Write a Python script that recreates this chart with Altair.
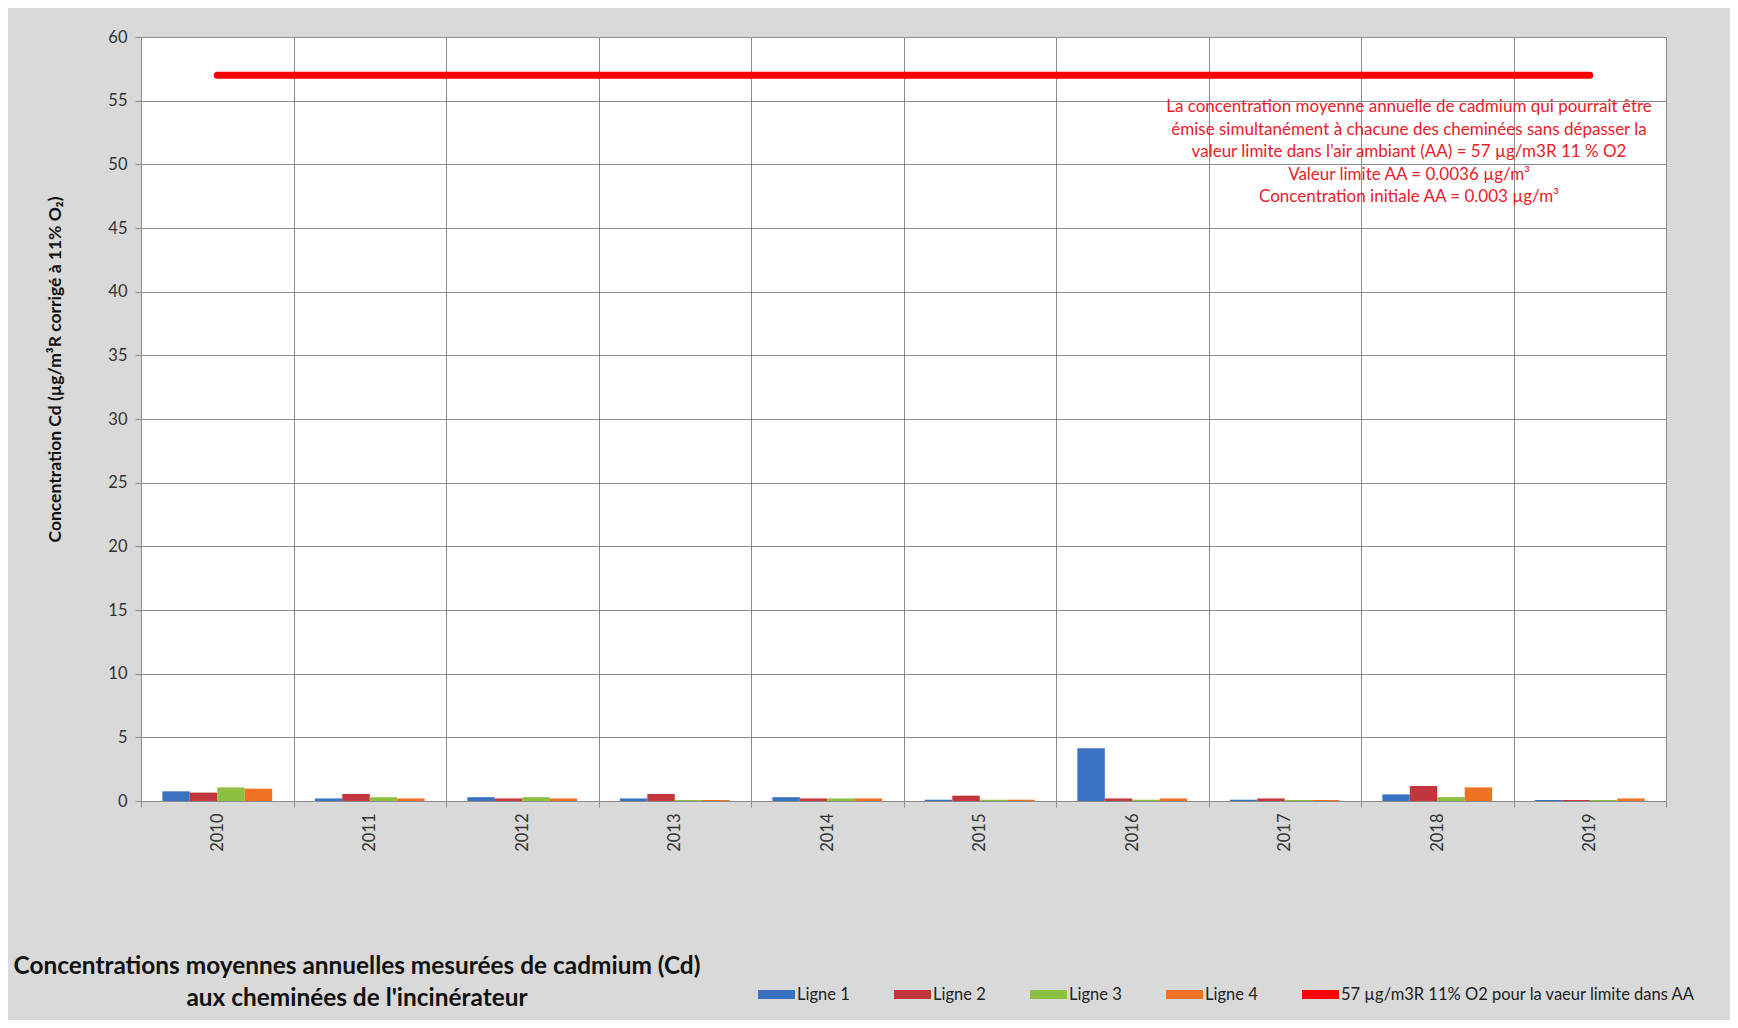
import altair as alt
import pandas as pd

years = ["2010", "2011", "2012", "2013", "2014", "2015", "2016", "2017", "2018", "2019"]
series = ["Ligne 1", "Ligne 2", "Ligne 3", "Ligne 4"]
ligne1 = [0.76, 0.20, 0.30, 0.20, 0.30, 0.10, 4.14, 0.10, 0.52, 0.08]
ligne2 = [0.66, 0.55, 0.20, 0.55, 0.20, 0.42, 0.20, 0.20, 1.18, 0.08]
ligne3 = [1.07, 0.30, 0.30, 0.08, 0.20, 0.10, 0.10, 0.08, 0.31, 0.08]
ligne4 = [0.97, 0.20, 0.20, 0.08, 0.20, 0.10, 0.20, 0.08, 1.07, 0.20]
limit_label = "57 µg/m3R 11% O2 pour la vaeur limite dans AA"
limit_values = [57, 57, 57, 57, 57, 57, 57, 57, 57, 57]
colors = ["#3a72c2", "#c0363a", "#8dc040", "#ef7124", "#ff0000"]

y_title = "Concentration Cd (µg/m³R corrigé à 11% O₂)"
ann_lines = [
    "La concentration moyenne  annuelle de  cadmium qui pourrait être",
    "émise simultanément à chacune des cheminées  sans dépasser la",
    "valeur limite dans l’air ambiant (AA) = 57 µg/m3R 11 % O2",
    "Valeur limite AA  = 0.0036 µg/m³",
    "Concentration initiale AA = 0.003 µg/m³",
]
title_lines = [
    "Concentrations moyennes annuelles mesurées de cadmium (Cd)",
    "aux cheminées de l'incinérateur",
]

rows = []
for s, vals in zip(series, [ligne1, ligne2, ligne3, ligne4]):
    for y, v in zip(years, vals):
        rows.append({"year": y, "series": s, "value": v})
bar_df = pd.DataFrame(rows)
line_df = pd.DataFrame({"year": years, "value": limit_values, "series": [limit_label] * len(years)})

FONT = "Lato"
GRID = "#8c8c8c"

color_scale = alt.Scale(domain=series + [limit_label], range=colors)
x_enc = alt.X(
    "year:N", sort=years,
    scale=alt.Scale(paddingInner=0, paddingOuter=0),
    axis=alt.Axis(title=None, labelAngle=270, tickBand="extent", grid=True,
                  labelFontSize=16.5, labelPadding=6, tickSize=6),
)
y_enc = alt.Y(
    "value:Q",
    scale=alt.Scale(domain=[0, 60], nice=False),
    axis=alt.Axis(values=list(range(0, 61, 5)), title=y_title, titleFont=FONT,
                  titleFontWeight="bold", titleFontSize=17.5, titleColor="#111111",
                  titleAngle=270, titleX=-86, titleY=332, titleAlign="center",
                  titleBaseline="middle", labelFontSize=16.5, labelPadding=8, tickSize=6),
)

legend = alt.Legend(
    orient="none", legendX=617, legendY=939, direction="horizontal", title=None,
    symbolType="M-1,-0.24H1V0.24H-1Z", symbolSize=1369, symbolStrokeWidth=0,
    labelFont=FONT, labelFontSize=16.5, labelColor="#222222", labelOffset=2,
    columnPadding=44, labelLimit=600,
)

bars = alt.Chart(bar_df).mark_bar().encode(
    x=x_enc,
    xOffset=alt.XOffset("series:N", sort=series,
                        scale=alt.Scale(paddingInner=0, paddingOuter=0.778)),
    y=y_enc,
    color=alt.Color("series:N", scale=color_scale, legend=legend),
)

line = alt.Chart(line_df).mark_line(strokeWidth=7, strokeCap="round").encode(
    x=alt.X("year:N", sort=years),
    y=alt.Y("value:Q"),
    color=alt.Color("series:N", scale=color_scale, legend=legend),
)

ann = alt.Chart(pd.DataFrame({"k": [0]})).mark_text(
    font=FONT, fontSize=17, color="#e8202a", align="center", baseline="top", lineHeight=22.5,
).encode(text=alt.value(ann_lines), x=alt.value(1268), y=alt.value(62))

title_txt = alt.Chart(pd.DataFrame({"k": [0]})).mark_text(
    font=FONT, fontSize=24.4, fontWeight="bold", color="#111111", align="center",
    baseline="top", lineHeight=32,
).encode(text=alt.value(title_lines), x=alt.value(216), y=alt.value(918))

chart = alt.layer(bars, line, ann, title_txt).properties(
    width=1525, height=764,
    padding={"left": 133, "top": 29, "right": 64, "bottom": 219},
    autosize=alt.AutoSizeParams(type="none"),
    background="#d9d9d9",
).configure_view(
    fill="white", stroke=GRID, strokeWidth=1,
).configure_axis(
    labelFont=FONT, labelColor="#333333", gridColor=GRID, gridOpacity=1,
    tickColor=GRID, domainColor=GRID,
)

chart.save("out.html", embed_options={"renderer": "svg", "actions": False})
